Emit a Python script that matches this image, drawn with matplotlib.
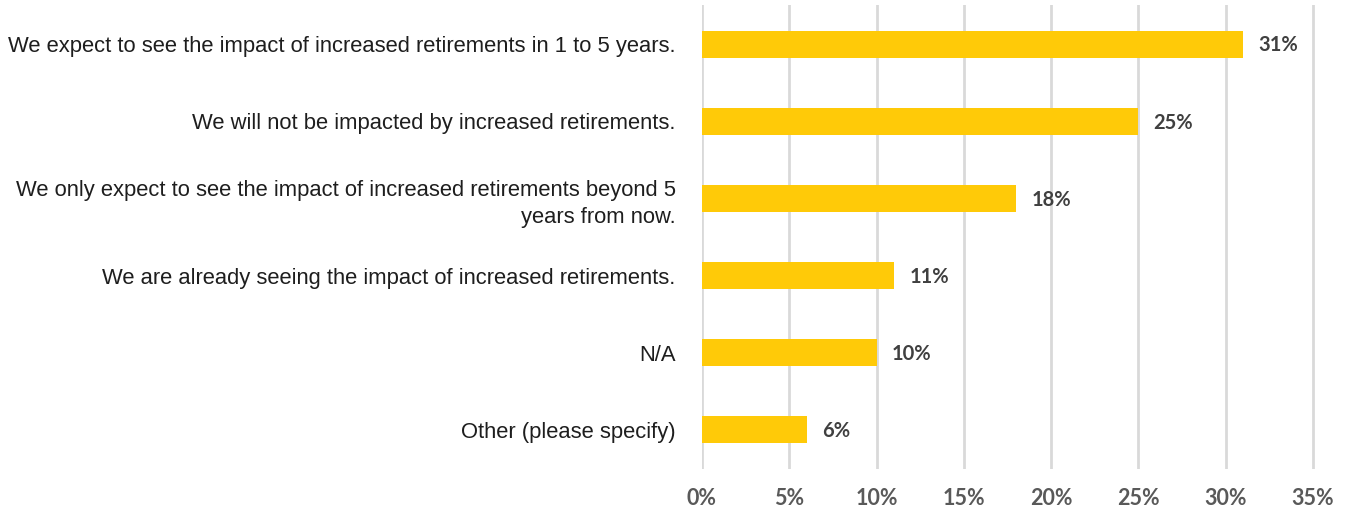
import matplotlib
matplotlib.use("Agg")
import matplotlib.pyplot as plt

# Survey responses, top to bottom
categories = [
    "We expect to see the impact of increased retirements in 1 to 5 years.",
    "We will not be impacted by increased retirements.",
    "We only expect to see the impact of increased retirements beyond 5\nyears from now.",
    "We are already seeing the impact of increased retirements.",
    "N/A",
    "Other (please specify)",
]
shares = [31, 25, 18, 11, 10, 6]
xticks = [0, 5, 10, 15, 20, 25, 30, 35]

fig = plt.figure(figsize=(13.47, 5.11), dpi=100)
xmax = 35.2
ax = fig.add_axes([702 / 1347, 1 - 468.5 / 511, xmax * (611 / 35) / 1347, 463 / 511])

ypos = list(range(len(categories)))
ax.barh(ypos, shares, height=0.35, color="#FFCA08", zorder=3)

# value labels to the right of each bar
for y, v in zip(ypos, shares):
    ax.annotate(f"{v}%", (v, y), xytext=(11, -1), textcoords="offset points",
                va="center", ha="left", fontsize=14.5, fontweight="bold",
                family="Lato", color="#404040")

ax.set_xlim(0, xmax)
ax.set_ylim(len(categories) - 0.5, -0.5)
ax.set_xticks(xticks)
ax.set_xticklabels([f"{t}%" for t in xticks], family="Lato", fontsize=15.5,
                   fontweight="bold", color="#595959")
ax.set_yticks(ypos)
ax.set_yticklabels(categories, family="Liberation Sans", fontsize=15.8,
                   color="#1E1E1E", ha="right", multialignment="right",
                   linespacing=1.35)
ax.tick_params(axis="both", length=0)
ax.tick_params(axis="y", pad=19)
ax.tick_params(axis="x", pad=14)

ax.grid(axis="x", color="#D9D9D9", linewidth=2, zorder=0)
for s in ax.spines.values():
    s.set_visible(False)

fig.savefig("out.png", dpi=100)
